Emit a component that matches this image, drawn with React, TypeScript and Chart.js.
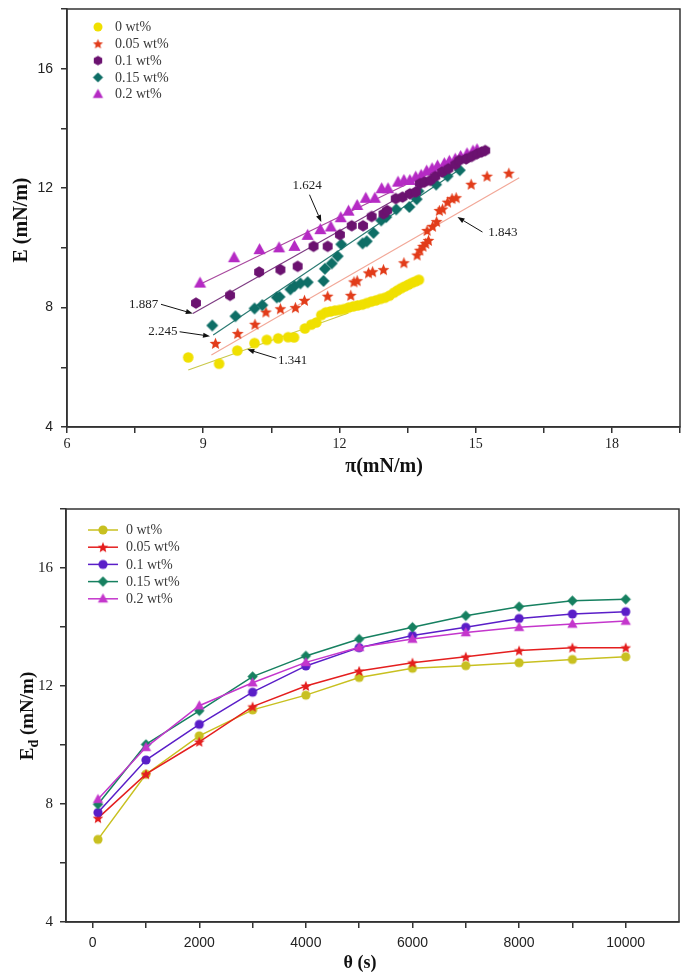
import React, { useEffect, useRef } from 'react';
import { Chart, registerables } from 'chart.js';

Chart.register(...registerables);

type Pt = [number, number];

// ---------- Top chart: E vs pi ----------
const seriesNames = ['0 wt%', '0.05 wt%', '0.1 wt%', '0.15 wt%', '0.2 wt%'];

const surf0: Pt[] = [
  [8.67, 6.33], [9.35, 6.12], [9.75, 6.56], [10.13, 6.81], [10.4, 6.92], [10.65, 6.97], [10.87, 7.01], [11.0, 7.0],
  [11.24, 7.3], [11.38, 7.43], [11.49, 7.5], [11.6, 7.75], [11.7, 7.84], [11.8, 7.87], [11.9, 7.9], [12.0, 7.92],
  [12.1, 7.95], [12.2, 8.0], [12.3, 8.04], [12.4, 8.07], [12.5, 8.1], [12.6, 8.15], [12.7, 8.2], [12.8, 8.24],
  [12.9, 8.29], [13.0, 8.33], [13.1, 8.4], [13.2, 8.5], [13.28, 8.58], [13.36, 8.65], [13.44, 8.71], [13.52, 8.77],
  [13.6, 8.83], [13.68, 8.88], [13.75, 8.93],
];
const surf005: Pt[] = [
  [9.27, 6.8], [9.76, 7.13], [10.14, 7.44], [10.38, 7.85], [10.7, 7.96], [11.03, 8.0], [11.23, 8.24], [11.74, 8.38],
  [12.25, 8.41], [12.32, 8.86], [12.39, 8.9], [12.64, 9.16], [12.73, 9.2], [12.97, 9.27], [13.42, 9.5], [13.71, 9.76],
  [13.77, 9.92], [13.84, 10.05], [13.9, 10.15], [13.96, 10.25], [13.93, 10.58], [14.05, 10.72], [14.14, 10.88],
  [14.2, 11.25], [14.27, 11.3], [14.38, 11.53], [14.48, 11.65], [14.57, 11.68], [14.9, 12.13], [15.25, 12.4], [15.73, 12.5],
];
const surf01: Pt[] = [
  [8.84, 8.15], [9.59, 8.41], [10.23, 9.19], [10.7, 9.27], [11.08, 9.38], [11.43, 10.05], [11.74, 10.05], [12.01, 10.44],
  [12.27, 10.74], [12.52, 10.74], [12.71, 11.05], [12.97, 11.14], [13.05, 11.25], [13.24, 11.65], [13.39, 11.7],
  [13.55, 11.81], [13.68, 11.87], [13.77, 12.15], [13.87, 12.2], [14.0, 12.26], [14.11, 12.39], [14.26, 12.54],
  [14.4, 12.65], [14.55, 12.79], [14.64, 12.93], [14.79, 12.98], [14.91, 13.06], [15.03, 13.15], [15.13, 13.21], [15.21, 13.26],
];
const surf015: Pt[] = [
  [9.2, 7.4], [9.71, 7.71], [10.13, 7.97], [10.3, 8.08], [10.62, 8.34], [10.68, 8.36], [10.92, 8.61], [11.01, 8.72],
  [11.14, 8.81], [11.3, 8.85], [11.65, 8.89], [11.68, 9.3], [11.83, 9.48], [11.96, 9.72], [12.04, 10.12], [12.51, 10.15],
  [12.6, 10.22], [12.75, 10.5], [12.92, 10.92], [13.03, 11.03], [13.25, 11.29], [13.54, 11.37], [13.7, 11.63],
  [13.74, 11.9], [14.13, 12.12], [14.38, 12.4], [14.65, 12.6],
];
const surf02: Pt[] = [
  [8.93, 8.82], [9.68, 9.67], [10.24, 9.94], [10.67, 10.0], [11.01, 10.05], [11.3, 10.42], [11.58, 10.61], [11.81, 10.7],
  [12.03, 11.01], [12.2, 11.23], [12.39, 11.42], [12.58, 11.66], [12.78, 11.66], [12.93, 11.98], [13.07, 11.98],
  [13.29, 12.2], [13.42, 12.26], [13.55, 12.26], [13.68, 12.37], [13.8, 12.43], [13.92, 12.57], [14.04, 12.65],
  [14.16, 12.74], [14.31, 12.82], [14.42, 12.9], [14.55, 12.97], [14.67, 13.06], [14.81, 13.15], [14.94, 13.24], [15.03, 13.29],
];

// fitted straight lines (end points, data units)
const fit0: Pt[] = [[8.67, 5.91], [12.2, 7.82]];
const fit005: Pt[] = [[9.18, 6.41], [15.96, 12.35]];
const fit01: Pt[] = [[8.77, 7.8], [15.15, 13.26]];
const fit015: Pt[] = [[9.22, 7.08], [14.67, 12.65]];
const fit02: Pt[] = [[8.85, 8.72], [14.6, 12.95]];

// slope labels with arrows (data units)
const slopeLabels: string[] = ['1.624', '1.843', '1.887', '2.245', '1.341'];
const slopeText: Pt[] = [[11.29, 12.07], [15.6, 10.5], [7.69, 8.11], [8.11, 7.19], [10.97, 6.24]];
const slopeFrom: Pt[] = [[11.34, 11.78], [15.15, 10.53], [8.07, 8.11], [8.48, 7.19], [10.61, 6.3]];
const slopeTip: Pt[] = [[11.6, 10.87], [14.6, 11.03], [8.77, 7.8], [9.15, 7.04], [9.97, 6.6]];

const piTicks = [6, 9, 12, 15, 18];
const eTicks = [4, 8, 12, 16];

// ---------- Bottom chart: Ed vs theta ----------
const thetaS = [100, 1000, 2000, 3000, 4000, 5000, 6000, 7000, 8000, 9000, 10000];
const ed0 = [6.8, 9.01, 10.31, 11.19, 11.69, 12.29, 12.6, 12.69, 12.79, 12.9, 12.99];
const ed005 = [7.52, 9.01, 10.11, 11.3, 12.0, 12.51, 12.79, 12.99, 13.2, 13.3, 13.3];
const ed01 = [7.71, 9.49, 10.7, 11.79, 12.68, 13.3, 13.71, 13.99, 14.29, 14.44, 14.52];
const ed015 = [7.99, 10.02, 11.16, 12.32, 13.02, 13.59, 13.99, 14.38, 14.69, 14.89, 14.94];
const ed02 = [8.16, 9.92, 11.33, 12.11, 12.8, 13.31, 13.59, 13.81, 13.99, 14.1, 14.2];
const thetaTicks = [0, 1000, 2000, 3000, 4000, 5000, 6000, 7000, 8000, 9000, 10000];
const edTicks = [4, 8, 12, 16];

const SERIF = '"Liberation Serif", "Times New Roman", serif';
const SANS = '"Liberation Sans", Arial, sans-serif';

type Shape = 'circle' | 'star' | 'hex' | 'diamond' | 'triangle';

function makeMarker(shape: Shape, r: number, color: string): HTMLCanvasElement {
  const d = Math.ceil(r * 2 + 4);
  const c = document.createElement('canvas');
  c.width = d;
  c.height = d;
  const ctx = c.getContext('2d') as CanvasRenderingContext2D;
  const cx = d / 2;
  const cy = d / 2;
  ctx.fillStyle = color;
  ctx.beginPath();
  if (shape === 'circle') {
    ctx.arc(cx, cy, r, 0, Math.PI * 2);
  } else if (shape === 'star') {
    for (let i = 0; i < 10; i++) {
      const rad = i % 2 === 0 ? r : r * 0.45;
      const a = -Math.PI / 2 + (i * Math.PI) / 5;
      const x = cx + rad * Math.cos(a);
      const y = cy + rad * Math.sin(a) + r * 0.08;
      if (i === 0) ctx.moveTo(x, y);
      else ctx.lineTo(x, y);
    }
  } else if (shape === 'hex') {
    for (let i = 0; i < 6; i++) {
      const a = -Math.PI / 2 + (i * Math.PI) / 3;
      const x = cx + r * Math.cos(a);
      const y = cy + r * Math.sin(a);
      if (i === 0) ctx.moveTo(x, y);
      else ctx.lineTo(x, y);
    }
  } else if (shape === 'diamond') {
    ctx.moveTo(cx, cy - r);
    ctx.lineTo(cx + r, cy);
    ctx.lineTo(cx, cy + r);
    ctx.lineTo(cx - r, cy);
  } else {
    ctx.moveTo(cx, cy - r);
    ctx.lineTo(cx + r * 0.95, cy + r * 0.7);
    ctx.lineTo(cx - r * 0.95, cy + r * 0.7);
  }
  ctx.closePath();
  ctx.fill();
  return c;
}

const toXY = (pts: Pt[]) => pts.map(([x, y]) => ({ x, y }));

function boxPlugin(id: string) {
  return {
    id,
    afterDraw(chart: any) {
      const { ctx, chartArea } = chart;
      ctx.save();
      ctx.strokeStyle = '#333';
      ctx.lineWidth = 1.5;
      ctx.strokeRect(chartArea.left, chartArea.top, chartArea.right - chartArea.left, chartArea.bottom - chartArea.top);
      ctx.restore();
    },
  };
}

const yFit = (w: number) => (s: any) => {
  s.width = w;
  s.paddingTop = 0;
  s.paddingBottom = 0;
};
const xFit = (h: number) => (s: any) => {
  s.height = h;
  s.paddingLeft = 0;
  s.paddingRight = 0;
};

const App: React.FC = () => {
  const topRef = useRef<HTMLCanvasElement>(null);
  const botRef = useRef<HTMLCanvasElement>(null);

  useEffect(() => {
    // ---------- top ----------
    const topColors = ['#f0e000', '#e23c1a', '#6b1270', '#0e6e66', '#b52ac4'];
    const fitColors = ['#c9c84a', '#f2a898', '#7d3b82', '#2a7a72', '#a8489e'];
    const topShapes: Shape[] = ['circle', 'star', 'hex', 'diamond', 'triangle'];
    const topSizes = [5.3, 6.2, 5.7, 6.0, 6.4];
    const topMarkers = topShapes.map((s, i) => makeMarker(s, topSizes[i], topColors[i]));
    const legendMarkersTop = topShapes.map((s, i) => makeMarker(s, topSizes[i] * 0.85, topColors[i]));
    const scatterSets = [surf0, surf005, surf01, surf015, surf02];
    const fitSets = [fit0, fit005, fit01, fit015, fit02];
    const scatterOrder = [5, 4, 1, 2, 3];

    const datasetsTop: any[] = [];
    fitSets.forEach((f, i) => {
      datasetsTop.push({
        label: 'fit ' + seriesNames[i],
        data: toXY(f),
        showLine: true,
        borderColor: fitColors[i],
        borderWidth: 1.2,
        pointRadius: 0,
        order: 10,
      });
    });
    scatterSets.forEach((s, i) => {
      datasetsTop.push({
        label: seriesNames[i],
        data: toXY(s),
        showLine: false,
        pointStyle: topMarkers[i],
        backgroundColor: topColors[i],
        borderColor: topColors[i],
        order: scatterOrder[i],
      });
    });

    const topAnno = {
      id: 'topAnno',
      afterDatasetsDraw(chart: any) {
        const { ctx, scales } = chart;
        const X = (v: number) => scales.x.getPixelForValue(v);
        const Y = (v: number) => scales.y.getPixelForValue(v);
        ctx.save();
        ctx.font = '13px ' + SERIF;
        ctx.textAlign = 'center';
        ctx.textBaseline = 'middle';
        slopeLabels.forEach((lab, i) => {
          ctx.fillStyle = '#222';
          ctx.fillText(lab, X(slopeText[i][0]), Y(slopeText[i][1]));
          const x0 = X(slopeFrom[i][0]);
          const y0 = Y(slopeFrom[i][1]);
          const x1 = X(slopeTip[i][0]);
          const y1 = Y(slopeTip[i][1]);
          const ang = Math.atan2(y1 - y0, x1 - x0);
          const L = 7;
          const W = 2.6;
          ctx.strokeStyle = '#111';
          ctx.lineWidth = 1;
          ctx.beginPath();
          ctx.moveTo(x0, y0);
          ctx.lineTo(x1 - L * Math.cos(ang), y1 - L * Math.sin(ang));
          ctx.stroke();
          ctx.fillStyle = '#111';
          ctx.beginPath();
          ctx.moveTo(x1, y1);
          ctx.lineTo(x1 - L * Math.cos(ang) + W * Math.sin(ang), y1 - L * Math.sin(ang) - W * Math.cos(ang));
          ctx.lineTo(x1 - L * Math.cos(ang) - W * Math.sin(ang), y1 - L * Math.sin(ang) + W * Math.cos(ang));
          ctx.closePath();
          ctx.fill();
        });
        ctx.restore();
      },
      afterDraw(chart: any) {
        const { ctx, chartArea } = chart;
        ctx.save();
        // legend
        ctx.font = '14px ' + SERIF;
        ctx.fillStyle = '#3a3a3a';
        ctx.textAlign = 'left';
        ctx.textBaseline = 'middle';
        seriesNames.forEach((name, i) => {
          const y = chartArea.top + 18 + i * 16.8;
          const m = legendMarkersTop[i];
          ctx.drawImage(m, chartArea.left + 31 - m.width / 2, y - m.height / 2);
          ctx.fillText(name, chartArea.left + 48, y + 0.5);
        });
        // axis titles
        ctx.fillStyle = '#111';
        ctx.font = 'bold 20px ' + SERIF;
        ctx.textAlign = 'center';
        ctx.fillText('\u03c0(mN/m)', 384, 467);
        ctx.translate(22, 220);
        ctx.rotate(-Math.PI / 2);
        ctx.fillText('E (mN/m)', 0, 0);
        ctx.restore();
      },
    };

    const topChart = new Chart(topRef.current as HTMLCanvasElement, {
      type: 'scatter',
      data: { datasets: datasetsTop },
      options: {
        animation: false,
        responsive: false,
        events: [],
        layout: { padding: { left: 0, right: 8, top: 9, bottom: 0 } },
        plugins: { legend: { display: false }, tooltip: { enabled: false } },
        scales: {
          x: {
            type: 'linear',
            min: 6,
            max: 19.5,
            afterFit: xFit(53),
            afterBuildTicks: (s: any) => {
              const t: any[] = [];
              for (let k = 0; k <= 9; k++) t.push({ value: 6 + k * 1.5 });
              s.ticks = t;
            },
            ticks: {
              autoSkip: false,
              maxRotation: 0,
              padding: 3,
              color: '#222',
              font: { family: SERIF, size: 14 },
              callback: (v: any) => (piTicks.includes(Number(v)) ? String(v) : ''),
            },
            grid: { display: true, drawOnChartArea: false, drawTicks: true, tickLength: 6, color: '#333', lineWidth: 1.5 },
            border: { display: true, color: '#333', width: 1.5 },
          },
          y: {
            type: 'linear',
            min: 4,
            max: 18,
            afterFit: yFit(67),
            afterBuildTicks: (s: any) => {
              const t: any[] = [];
              for (let k = 0; k <= 7; k++) t.push({ value: 4 + k * 2 });
              s.ticks = t;
            },
            ticks: {
              autoSkip: false,
              padding: 8,
              color: '#222',
              font: { family: SANS, size: 14 },
              callback: (v: any) => (eTicks.includes(Number(v)) ? String(v) : ''),
            },
            grid: { display: true, drawOnChartArea: false, drawTicks: true, tickLength: 6, color: '#333', lineWidth: 1.5 },
            border: { display: true, color: '#333', width: 1.5 },
          },
        },
      } as any,
      plugins: [boxPlugin('topBox'), topAnno],
    });

    // ---------- bottom ----------
    const botColors = ['#c8c020', '#e41e1e', '#5a1ec8', '#168060', '#c436cc'];
    const botShapes: Shape[] = ['circle', 'star', 'circle', 'diamond', 'triangle'];
    const botSizes = [4.6, 5.6, 4.6, 5.2, 5.4];
    const botMarkers = botShapes.map((s, i) => makeMarker(s, botSizes[i], botColors[i]));
    const botSeries = [ed0, ed005, ed01, ed015, ed02];
    const botOrder = [4, 3, 2, 1, 0];
    const datasetsBot = botSeries.map((vals, i) => ({
      label: seriesNames[i],
      data: vals.map((v, k) => ({ x: thetaS[k], y: v })),
      showLine: true,
      borderColor: botColors[i],
      backgroundColor: botColors[i],
      borderWidth: 1.5,
      pointStyle: botMarkers[i],
      order: botOrder[i],
    }));

    const botDecor = {
      id: 'botDecor',
      afterDraw(chart: any) {
        const { ctx, chartArea } = chart;
        ctx.save();
        ctx.font = '14px ' + SERIF;
        ctx.textAlign = 'left';
        ctx.textBaseline = 'middle';
        seriesNames.forEach((name, i) => {
          const y = chartArea.top + 21 + i * 17.2;
          const x0 = chartArea.left + 22;
          ctx.strokeStyle = botColors[i];
          ctx.lineWidth = 1.5;
          ctx.beginPath();
          ctx.moveTo(x0, y);
          ctx.lineTo(x0 + 30, y);
          ctx.stroke();
          const m = botMarkers[i];
          ctx.drawImage(m, x0 + 15 - m.width / 2, y - m.height / 2);
          ctx.fillStyle = '#3a3a3a';
          ctx.fillText(name, x0 + 38, y + 0.5);
        });
        // axis titles
        ctx.fillStyle = '#111';
        ctx.font = 'bold 18px ' + SERIF;
        ctx.textAlign = 'center';
        ctx.fillText('\u03b8 (s)', 360, 483);
        // rotated y title with subscript
        ctx.translate(27, 236);
        ctx.rotate(-Math.PI / 2);
        const big = 'bold 19px ' + SERIF;
        const small = 'bold 14px ' + SERIF;
        ctx.font = big;
        const wE = ctx.measureText('E').width;
        const wRest = ctx.measureText(' (mN/m)').width;
        ctx.font = small;
        const wd = ctx.measureText('d').width;
        const total = wE + wd + wRest;
        let x = -total / 2;
        ctx.textAlign = 'left';
        ctx.textBaseline = 'alphabetic';
        ctx.font = big;
        ctx.fillText('E', x, 6);
        x += wE;
        ctx.font = small;
        ctx.fillText('d', x, 11);
        x += wd;
        ctx.font = big;
        ctx.fillText(' (mN/m)', x, 6);
        ctx.restore();
      },
    };

    const botChart = new Chart(botRef.current as HTMLCanvasElement, {
      type: 'scatter',
      data: { datasets: datasetsBot },
      options: {
        animation: false,
        responsive: false,
        events: [],
        layout: { padding: { left: 0, right: 9, top: 29, bottom: 0 } },
        plugins: { legend: { display: false }, tooltip: { enabled: false } },
        scales: {
          x: {
            type: 'linear',
            min: -500,
            max: 11000,
            afterFit: xFit(56),
            afterBuildTicks: (s: any) => {
              s.ticks = thetaTicks.map((v) => ({ value: v }));
            },
            ticks: {
              autoSkip: false,
              maxRotation: 0,
              padding: 7,
              color: '#222',
              font: { family: SANS, size: 14 },
              callback: (v: any) => (Number(v) % 2000 === 0 ? String(v) : ''),
            },
            grid: { display: true, drawOnChartArea: false, drawTicks: true, tickLength: 6, color: '#333', lineWidth: 1.5 },
            border: { display: true, color: '#333', width: 1.5 },
          },
          y: {
            type: 'linear',
            min: 4,
            max: 18,
            afterFit: yFit(66),
            afterBuildTicks: (s: any) => {
              const t: any[] = [];
              for (let k = 0; k <= 7; k++) t.push({ value: 4 + k * 2 });
              s.ticks = t;
            },
            ticks: {
              autoSkip: false,
              padding: 7,
              color: '#222',
              font: { family: SERIF, size: 15 },
              callback: (v: any) => (edTicks.includes(Number(v)) ? String(v) : ''),
            },
            grid: { display: true, drawOnChartArea: false, drawTicks: true, tickLength: 6, color: '#333', lineWidth: 1.5 },
            border: { display: true, color: '#333', width: 1.5 },
          },
        },
      } as any,
      plugins: [boxPlugin('botBox'), botDecor],
    });

    return () => {
      topChart.destroy();
      botChart.destroy();
    };
  }, []);

  return (
    <div style={{ position: 'absolute', left: 0, top: 0, width: 688, height: 978, background: '#fff' }}>
      <canvas ref={topRef} width={688} height={480} style={{ display: 'block', width: 688, height: 480 }} />
      <canvas ref={botRef} width={688} height={498} style={{ display: 'block', width: 688, height: 498 }} />
    </div>
  );
};

export default App;
